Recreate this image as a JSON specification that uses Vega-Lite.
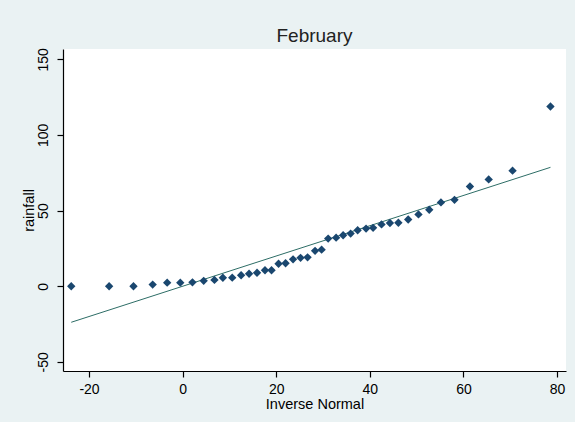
{
  "$schema": "https://vega.github.io/schema/vega-lite/v6.json",
  "width": 503,
  "height": 322,
  "autosize": {"type": "none"},
  "padding": {"left": 63, "top": 49, "right": 9, "bottom": 51},
  "background": "#EAF2F3",
  "config": {
    "view": {"fill": "white", "stroke": null},
    "font": "Liberation Sans",
    "axis": {"grid": false, "domainColor": "black", "tickColor": "black", "labelColor": "black", "titleColor": "black", "labelFontSize": 14, "titleFontSize": 14.5, "titleFontWeight": "normal", "tickSize": 6, "domainWidth": 1.2, "tickWidth": 1.2, "labelExpr": "'' + datum.value"}
  },
  "title": {"text": "February", "fontSize": 19, "fontWeight": "normal", "color": "#222222", "anchor": "middle", "baseline": "alphabetic", "offset": -13},
  "datasets": {
    "points": [
      {"inv": -23.8, "rain": 0},
      {"inv": -15.7, "rain": 0},
      {"inv": -10.5, "rain": 0},
      {"inv": -6.4, "rain": 1.1},
      {"inv": -3.3, "rain": 2.4},
      {"inv": -0.5, "rain": 2.4},
      {"inv": 2.1, "rain": 2.6},
      {"inv": 4.5, "rain": 3.6},
      {"inv": 6.8, "rain": 4.2},
      {"inv": 8.6, "rain": 5.6},
      {"inv": 10.6, "rain": 5.7},
      {"inv": 12.5, "rain": 7.3},
      {"inv": 14.2, "rain": 8.3},
      {"inv": 15.9, "rain": 8.9},
      {"inv": 17.6, "rain": 10.6},
      {"inv": 19.0, "rain": 10.6},
      {"inv": 20.5, "rain": 14.9},
      {"inv": 22.0, "rain": 15.2},
      {"inv": 23.6, "rain": 17.8},
      {"inv": 25.2, "rain": 18.8},
      {"inv": 26.7, "rain": 19.1},
      {"inv": 28.3, "rain": 23.4},
      {"inv": 29.7, "rain": 24.2},
      {"inv": 31.1, "rain": 31.5},
      {"inv": 32.8, "rain": 32.1},
      {"inv": 34.3, "rain": 33.7},
      {"inv": 35.9, "rain": 34.8},
      {"inv": 37.4, "rain": 37.0},
      {"inv": 39.2, "rain": 38.1},
      {"inv": 40.7, "rain": 38.6},
      {"inv": 42.5, "rain": 40.9},
      {"inv": 44.3, "rain": 41.8},
      {"inv": 46.1, "rain": 42.0},
      {"inv": 48.2, "rain": 44.1},
      {"inv": 50.4, "rain": 47.5},
      {"inv": 52.7, "rain": 50.6},
      {"inv": 55.2, "rain": 55.4},
      {"inv": 58.1, "rain": 57.1},
      {"inv": 61.4, "rain": 65.9},
      {"inv": 65.4, "rain": 70.6},
      {"inv": 70.5, "rain": 76.4},
      {"inv": 78.6, "rain": 118.8}
    ],
    "ref": [
      {"inv": -23.8, "rain": -23.8},
      {"inv": 78.6, "rain": 78.6}
    ]
  },
  "layer": [
    {
      "data": {"name": "ref"},
      "mark": {"type": "line", "color": "#2D6D66", "strokeWidth": 1},
      "encoding": {
        "x": {"field": "inv", "type": "quantitative"},
        "y": {"field": "rain", "type": "quantitative"}
      }
    },
    {
      "data": {"name": "points"},
      "mark": {"type": "point", "shape": "diamond", "filled": true, "size": 70, "color": "#1A476F", "opacity": 1},
      "encoding": {
        "x": {"field": "inv", "type": "quantitative", "title": "Inverse Normal",
              "scale": {"domain": [-25.56, 81.92], "nice": false, "zero": false},
              "axis": {"values": [-20, 0, 20, 40, 60, 80], "labelPadding": 5, "titlePadding": 1}},
        "y": {"field": "rain", "type": "quantitative", "title": "rainfall",
              "scale": {"domain": [-56.0, 156.8], "nice": false, "zero": false},
              "axis": {"values": [-50, 0, 50, 100, 150], "labelAngle": 270, "labelAlign": "center", "labelBaseline": "bottom", "labelPadding": 7, "titlePadding": 0}}
      }
    }
  ]
}
